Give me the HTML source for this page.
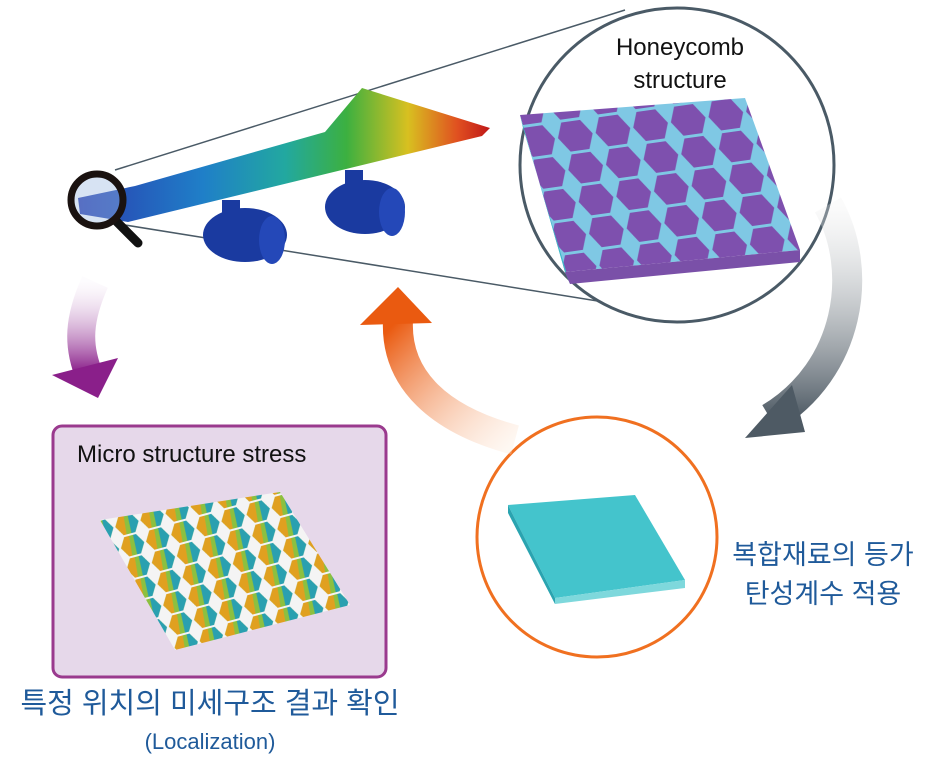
<!DOCTYPE html>
<html><head><meta charset="utf-8"><style>
html,body{margin:0;padding:0;background:#fff;width:927px;height:765px;overflow:hidden}
svg{display:block}
</style></head><body>
<svg width="927" height="765" viewBox="0 0 927 765" xmlns="http://www.w3.org/2000/svg">
<defs>
<linearGradient id="wing" x1="80" y1="0" x2="490" y2="0" gradientUnits="userSpaceOnUse">
<stop offset="0" stop-color="#2a3fb0"/><stop offset="0.3" stop-color="#1f7fc8"/>
<stop offset="0.5" stop-color="#22a8a0"/><stop offset="0.65" stop-color="#3cb040"/>
<stop offset="0.8" stop-color="#d8c020"/><stop offset="0.92" stop-color="#e05020"/><stop offset="1" stop-color="#c01818"/>
</linearGradient>
<linearGradient id="pg" x1="0" y1="0" x2="0" y2="1"><stop offset="0" stop-color="#f6eef8" stop-opacity="0.2"/><stop offset="1" stop-color="#8a1f8a"/></linearGradient>
<linearGradient id="gg" x1="0" y1="0" x2="0" y2="1"><stop offset="0" stop-color="#f2f2f2" stop-opacity="0.3"/><stop offset="1" stop-color="#4e5a64"/></linearGradient>
<linearGradient id="og" x1="1" y1="1" x2="0" y2="0"><stop offset="0" stop-color="#fde6d4" stop-opacity="0.3"/><stop offset="1" stop-color="#ea5a10"/></linearGradient>
<pattern id="hex" width="38" height="33" patternUnits="userSpaceOnUse" patternTransform="rotate(-8) skewX(10)">
<rect width="38" height="33" fill="#7fc8e4"/>
<polygon points="9.5,1.5 28.5,1.5 36.5,16.5 28.5,31.5 9.5,31.5 1.5,16.5" fill="#7e50ae"/>
</pattern>
<pattern id="hex2" width="26" height="22" patternUnits="userSpaceOnUse" patternTransform="rotate(-15)">
<rect width="26" height="22" fill="#f4f4f4"/>
<polygon points="7,1 19,1 25,11 19,21 7,21 1,11" fill="#8cc040"/>
<polygon points="7,1 12,1 10,21 7,21 1,11" fill="#e0a020"/>
<polygon points="16,1 19,1 25,11 19,21 15,21" fill="#2aa0b0"/>
</pattern>
</defs>

<line x1="115" y1="170" x2="625" y2="10" stroke="#4a5a66" stroke-width="1.5"/>
<line x1="125" y1="225" x2="635" y2="307" stroke="#4a5a66" stroke-width="1.5"/>

<polygon points="78,198 135,186 325,132 362,88 490,128 482,136 128,222 80,214" fill="url(#wing)"/>
<g fill="#1a3aa0">
<ellipse cx="245" cy="235" rx="42" ry="27"/><ellipse cx="272" cy="240" rx="13" ry="24" fill="#2448b8"/>
<rect x="222" y="200" width="18" height="15"/>
<ellipse cx="365" cy="207" rx="40" ry="27"/><ellipse cx="392" cy="212" rx="13" ry="24" fill="#2448b8"/>
<rect x="345" y="170" width="18" height="18"/>
</g>
<line x1="115" y1="220" x2="138" y2="243" stroke="#111" stroke-width="9" stroke-linecap="round"/>
<circle cx="97" cy="200" r="26" fill="#9ab8e0" fill-opacity="0.4" stroke="#1a1210" stroke-width="7"/>

<circle cx="677" cy="165" r="157" fill="#fff" stroke="#4a5a66" stroke-width="3"/>
<text x="680" y="55" font-family="Liberation Sans, sans-serif" font-size="24" text-anchor="middle" fill="#111">Honeycomb</text>
<text x="680" y="88" font-family="Liberation Sans, sans-serif" font-size="24" text-anchor="middle" fill="#111">structure</text>
<polygon points="520,115 745,98 800,250 565,272" fill="url(#hex)"/>
<polygon points="520,115 565,272 570,284 523,128" fill="#3fb8c8"/>
<polygon points="565,272 800,250 800,262 570,284" fill="#7a50a8"/>

<path d="M828,205 C865,270 850,370 770,418" fill="none" stroke="url(#gg)" stroke-width="30"/>
<polygon points="745,438 792,385 805,432" fill="#4e5a64"/>

<circle cx="597" cy="537" r="120" fill="#fff" stroke="#f07020" stroke-width="3"/>
<polygon points="508,505 635,495 685,580 555,598" fill="#44c4cc"/>
<polygon points="508,505 555,598 555,604 508,513" fill="#2aa4b0"/>
<polygon points="555,598 685,580 685,588 555,604" fill="#7ed8dc"/>
<text x="823" y="564" font-family="Liberation Sans, 'Noto Sans CJK KR', sans-serif" font-size="27" text-anchor="middle" fill="#1f5a9a">복합재료의 등가</text>
<text x="823" y="603" font-family="Liberation Sans, 'Noto Sans CJK KR', sans-serif" font-size="27" text-anchor="middle" fill="#1f5a9a">탄성계수 적용</text>

<path d="M515,440 C440,420 395,380 398,320" fill="none" stroke="url(#og)" stroke-width="30"/>
<polygon points="360,325 398,287 432,323" fill="#ea5a10"/>

<path d="M95,282 C78,320 78,345 88,372" fill="none" stroke="url(#pg)" stroke-width="28"/>
<polygon points="52,375 118,358 98,398" fill="#8a1f8a"/>

<rect x="53" y="426" width="333" height="251" rx="9" fill="#e6d8ea" stroke="#9a3a8e" stroke-width="3"/>
<text x="77" y="462" font-family="Liberation Sans, sans-serif" font-size="24" fill="#111">Micro structure stress</text>
<polygon points="100,520 280,492 350,605 175,650" fill="url(#hex2)"/>

<text x="210" y="713" font-family="Liberation Sans, 'Noto Sans CJK KR', sans-serif" font-size="29" text-anchor="middle" fill="#1f5a9a">특정 위치의 미세구조 결과 확인</text>
<text x="210" y="749" font-family="Liberation Sans, sans-serif" font-size="22" text-anchor="middle" fill="#1f5a9a">(Localization)</text>
</svg>
</body></html>
